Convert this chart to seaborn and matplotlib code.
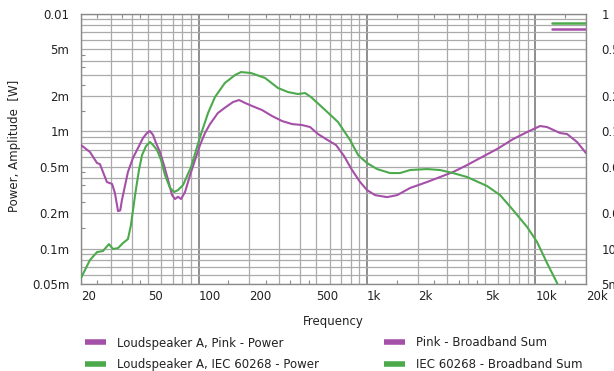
import matplotlib
matplotlib.use("Agg")
import matplotlib.pyplot as plt
import numpy as np
import pandas as pd
import seaborn as sns
from matplotlib.ticker import FixedLocator, FixedFormatter, NullFormatter

# Frequency response (power, mW) of loudspeaker A for two excitation signals
pink_freq = [20, 22.6, 24.9, 25.9, 28.5, 30.6, 31.8, 33.2, 34.2, 35.0, 38.0, 40.7, 43.6,
             46.7, 49.3, 51.4, 53.6, 55.8, 58.9, 62.2, 65.8, 69.5, 72.4, 75.4, 78.6,
             83.0, 88.9, 95.1, 101.9, 109, 116.8, 130, 145, 160, 174, 189, 208, 238,
             273, 313, 359, 411, 459, 512, 571, 655, 731, 815, 910, 1000, 1117, 1316,
             1510, 1803, 2274, 2716, 3246, 3932, 4698, 5930, 7380, 8934, 10670, 11740,
             14030, 15450, 17700, 19760, 20000]
pink_power_mw = [0.764, 0.667, 0.537, 0.526, 0.370, 0.356, 0.298, 0.209, 0.212, 0.259,
                 0.450, 0.592, 0.721, 0.877, 0.967, 1.005, 0.930, 0.795, 0.667, 0.516,
                 0.385, 0.286, 0.265, 0.277, 0.265, 0.304, 0.424, 0.569, 0.764, 0.967,
                 1.153, 1.432, 1.611, 1.777, 1.849, 1.743, 1.643, 1.519, 1.350, 1.224,
                 1.153, 1.132, 1.088, 0.948, 0.859, 0.764, 0.615, 0.468, 0.370, 0.316,
                 0.286, 0.275, 0.286, 0.329, 0.370, 0.408, 0.450, 0.516, 0.592, 0.707,
                 0.859, 0.986, 1.110, 1.088, 0.967, 0.948, 0.811, 0.667, 0.650]

iec_freq = [20, 22.6, 24.9, 27.0, 29.3, 31.0, 33.2, 35.5, 38.0, 39.6, 41.9, 44.2, 46.1,
            48.7, 51.4, 53.6, 56.6, 59.8, 63.1, 67.6, 71.4, 75.4, 80.7, 90.1, 101.9,
            113.7, 125, 143, 164.5, 178.6, 204.6, 248, 296, 340, 389, 429, 465, 564,
            673, 793, 885, 1000, 1148, 1371, 1572, 1803, 2274, 2716, 3246, 3932, 5168,
            6180, 7380, 8934, 10240, 11740, 13470, 14030]
iec_power_mw = [0.0562, 0.080, 0.0935, 0.0955, 0.1094, 0.0993, 0.1012, 0.1116, 0.1207,
                0.1589, 0.286, 0.468, 0.628, 0.749, 0.811, 0.764, 0.693, 0.569, 0.424,
                0.329, 0.304, 0.316, 0.348, 0.496, 0.894, 1.432, 1.96, 2.58, 3.02, 3.20,
                3.14, 2.85, 2.34, 2.16, 2.08, 2.12, 1.96, 1.52, 1.20, 0.843, 0.628, 0.537,
                0.477, 0.441, 0.441, 0.468, 0.477, 0.468, 0.441, 0.408, 0.342, 0.286,
                0.213, 0.153, 0.114, 0.0754, 0.0509, 0.044]

# Broadband sums (W), read on the right-hand axis
sum_freq = [12500, 20000]
pink_sum_w = 0.74
iec_sum_w = 0.84

x_ticks = [20, 50, 100, 200, 500, 1000, 2000, 5000, 10000, 20000]
x_tick_labels = ["20", "50", "100", "200", "500", "1k", "2k", "5k", "10k", "20k"]
y_ticks = [5e-5, 1e-4, 2e-4, 5e-4, 1e-3, 2e-3, 5e-3, 1e-2]
y_tick_labels = ["0.05m", "0.1m", "0.2m", "0.5m", "1m", "2m", "5m", "0.01"]
y2_ticks = [5e-3, 1e-2, 2e-2, 5e-2, 0.1, 0.2, 0.5, 1.0]
y2_tick_labels = ["5m", "10m", "0.02", "0.05", "0.1", "0.2", "0.5", "1"]

PURPLE = "#a550a8"
GREEN = "#4caa4c"
GRID = "#aaaaaa"
GRID_DECADE = "#7c7c7c"
FRAME = "#8a8a8a"
TEXT = "#222222"
FS = 8.5

sns.set_style("white")
plt.rcParams["font.family"] = ["DejaVu Sans"]
plt.rcParams["font.size"] = FS
plt.rcParams["text.color"] = TEXT
plt.rcParams["axes.labelcolor"] = TEXT
plt.rcParams["xtick.color"] = TEXT
plt.rcParams["ytick.color"] = TEXT

W, H = 614, 371
fig = plt.figure(figsize=(W / 100, H / 100), dpi=100)
L, R, T, B = 81, 586, 14, 284
ax = fig.add_axes([L / W, 1 - B / H, (R - L) / W, (B - T) / H])

pink_df = pd.DataFrame({"f": pink_freq, "p": np.array(pink_power_mw) * 1e-3})
iec_df = pd.DataFrame({"f": iec_freq, "p": np.array(iec_power_mw) * 1e-3})

sns.lineplot(data=pink_df, x="f", y="p", ax=ax, color=PURPLE, lw=1.5,
             estimator=None, sort=False, label="Loudspeaker A, Pink - Power",
             legend=False, zorder=3)
sns.lineplot(data=iec_df, x="f", y="p", ax=ax, color=GREEN, lw=1.5,
             estimator=None, sort=False, label="Loudspeaker A, IEC 60268 - Power",
             legend=False, zorder=3)

ax.set_xscale("log")
ax.set_yscale("log")
ax.set_xlim(20, 20000)
ax.set_ylim(5e-5, 1e-2)


def grid_positions(lo, hi):
    out = []
    for e in range(int(np.floor(np.log10(lo))), int(np.ceil(np.log10(hi))) + 1):
        for m in range(1, 10):
            v = m * 10.0 ** e
            if lo * 0.999 <= v <= hi * 1.001:
                out.append(v)
    return out


def half_positions(lo, hi):
    out = []
    for e in range(int(np.floor(np.log10(lo))), int(np.ceil(np.log10(hi))) + 1):
        for m in (1.5, 2.5, 3.5, 4.5):
            v = m * 10.0 ** e
            if lo < v < hi:
                out.append(v)
    return out


def labels_for(positions, ticks, labels):
    lut = {round(np.log10(t), 6): s for t, s in zip(ticks, labels)}
    return [lut.get(round(np.log10(p), 6), "") for p in positions]


xg = grid_positions(20, 20000)
yg = grid_positions(5e-5, 1e-2)

ax.xaxis.set_major_locator(FixedLocator(xg))
ax.xaxis.set_major_formatter(FixedFormatter(labels_for(xg, x_ticks, x_tick_labels)))
ax.xaxis.set_minor_locator(FixedLocator(half_positions(20, 20000)))
ax.xaxis.set_minor_formatter(NullFormatter())
ax.yaxis.set_major_locator(FixedLocator(yg))
ax.yaxis.set_major_formatter(FixedFormatter(labels_for(yg, y_ticks, y_tick_labels)))
ax.yaxis.set_minor_locator(FixedLocator(half_positions(5e-5, 1e-2)))
ax.yaxis.set_minor_formatter(NullFormatter())

ax.grid(True, which="major", color=GRID, lw=0.9)
ax.tick_params(which="major", length=0, labelsize=FS)
ax.tick_params(axis="x", which="major", pad=4)
ax.tick_params(axis="y", which="major", pad=8.5)
ax.tick_params(which="minor", direction="in", length=3, width=0.8, color=FRAME,
               top=True, bottom=True, left=True, right=True)
for lab in ax.get_xticklabels():
    lab.set_horizontalalignment("left")

for tick, pos in zip(ax.xaxis.get_major_ticks(), xg):
    if abs(np.log10(pos) - round(np.log10(pos))) < 1e-6:
        tick.gridline.set_color(GRID_DECADE)
        tick.gridline.set_linewidth(1.2)

for sp in ax.spines.values():
    sp.set_color(FRAME)
    sp.set_linewidth(1.0)
    sp.set_visible(True)

ax.set_xlabel("Frequency", labelpad=9)
ax.set_ylabel("Power, Amplitude  [W]")
ax.yaxis.set_label_coords(-0.118, 0.51)

# Right-hand axis for the broadband sums
ax2 = ax.twinx()
sum_df = pd.DataFrame({"f": sum_freq * 2,
                       "p": [pink_sum_w] * 2 + [iec_sum_w] * 2,
                       "s": ["Pink - Broadband Sum"] * 2 + ["IEC 60268 - Broadband Sum"] * 2})
sns.lineplot(data=sum_df, x="f", y="p", hue="s", ax=ax2,
             palette={"Pink - Broadband Sum": PURPLE, "IEC 60268 - Broadband Sum": GREEN},
             lw=1.8, estimator=None, legend=False, zorder=3)
ax2.set_yscale("log")
ax2.set_ylim(5e-3, 1.0)
ax2.set_xlim(20, 20000)
ax2.yaxis.set_major_locator(FixedLocator(y2_ticks))
ax2.yaxis.set_major_formatter(FixedFormatter(y2_tick_labels))
ax2.yaxis.set_minor_locator(FixedLocator([]))
ax2.tick_params(axis="y", which="major", length=0, pad=11, labelsize=FS)
ax2.set_ylabel("")
for sp in ax2.spines.values():
    sp.set_visible(False)

# Legend below the axes, two columns
h1 = ax.get_lines()[:2]
h2 = ax2.get_lines()[:2]
leg_kw = dict(frameon=False, fontsize=FS, handlelength=1.75, handletextpad=1.0,
              labelspacing=0.7, borderpad=0, borderaxespad=0, loc="upper left")
leg1 = fig.legend(h1, [h.get_label() for h in h1],
                  bbox_to_anchor=(85 / W, 1 - 336.5 / H), **leg_kw)
leg2 = fig.legend(h2, ["Pink - Broadband Sum", "IEC 60268 - Broadband Sum"],
                  bbox_to_anchor=(384 / W, 1 - 336.5 / H), **leg_kw)
for leg in (leg1, leg2):
    for ln in leg.get_lines():
        ln.set_linewidth(4)
        ln.set_solid_capstyle("butt")

fig.savefig("out.png", dpi=100)
